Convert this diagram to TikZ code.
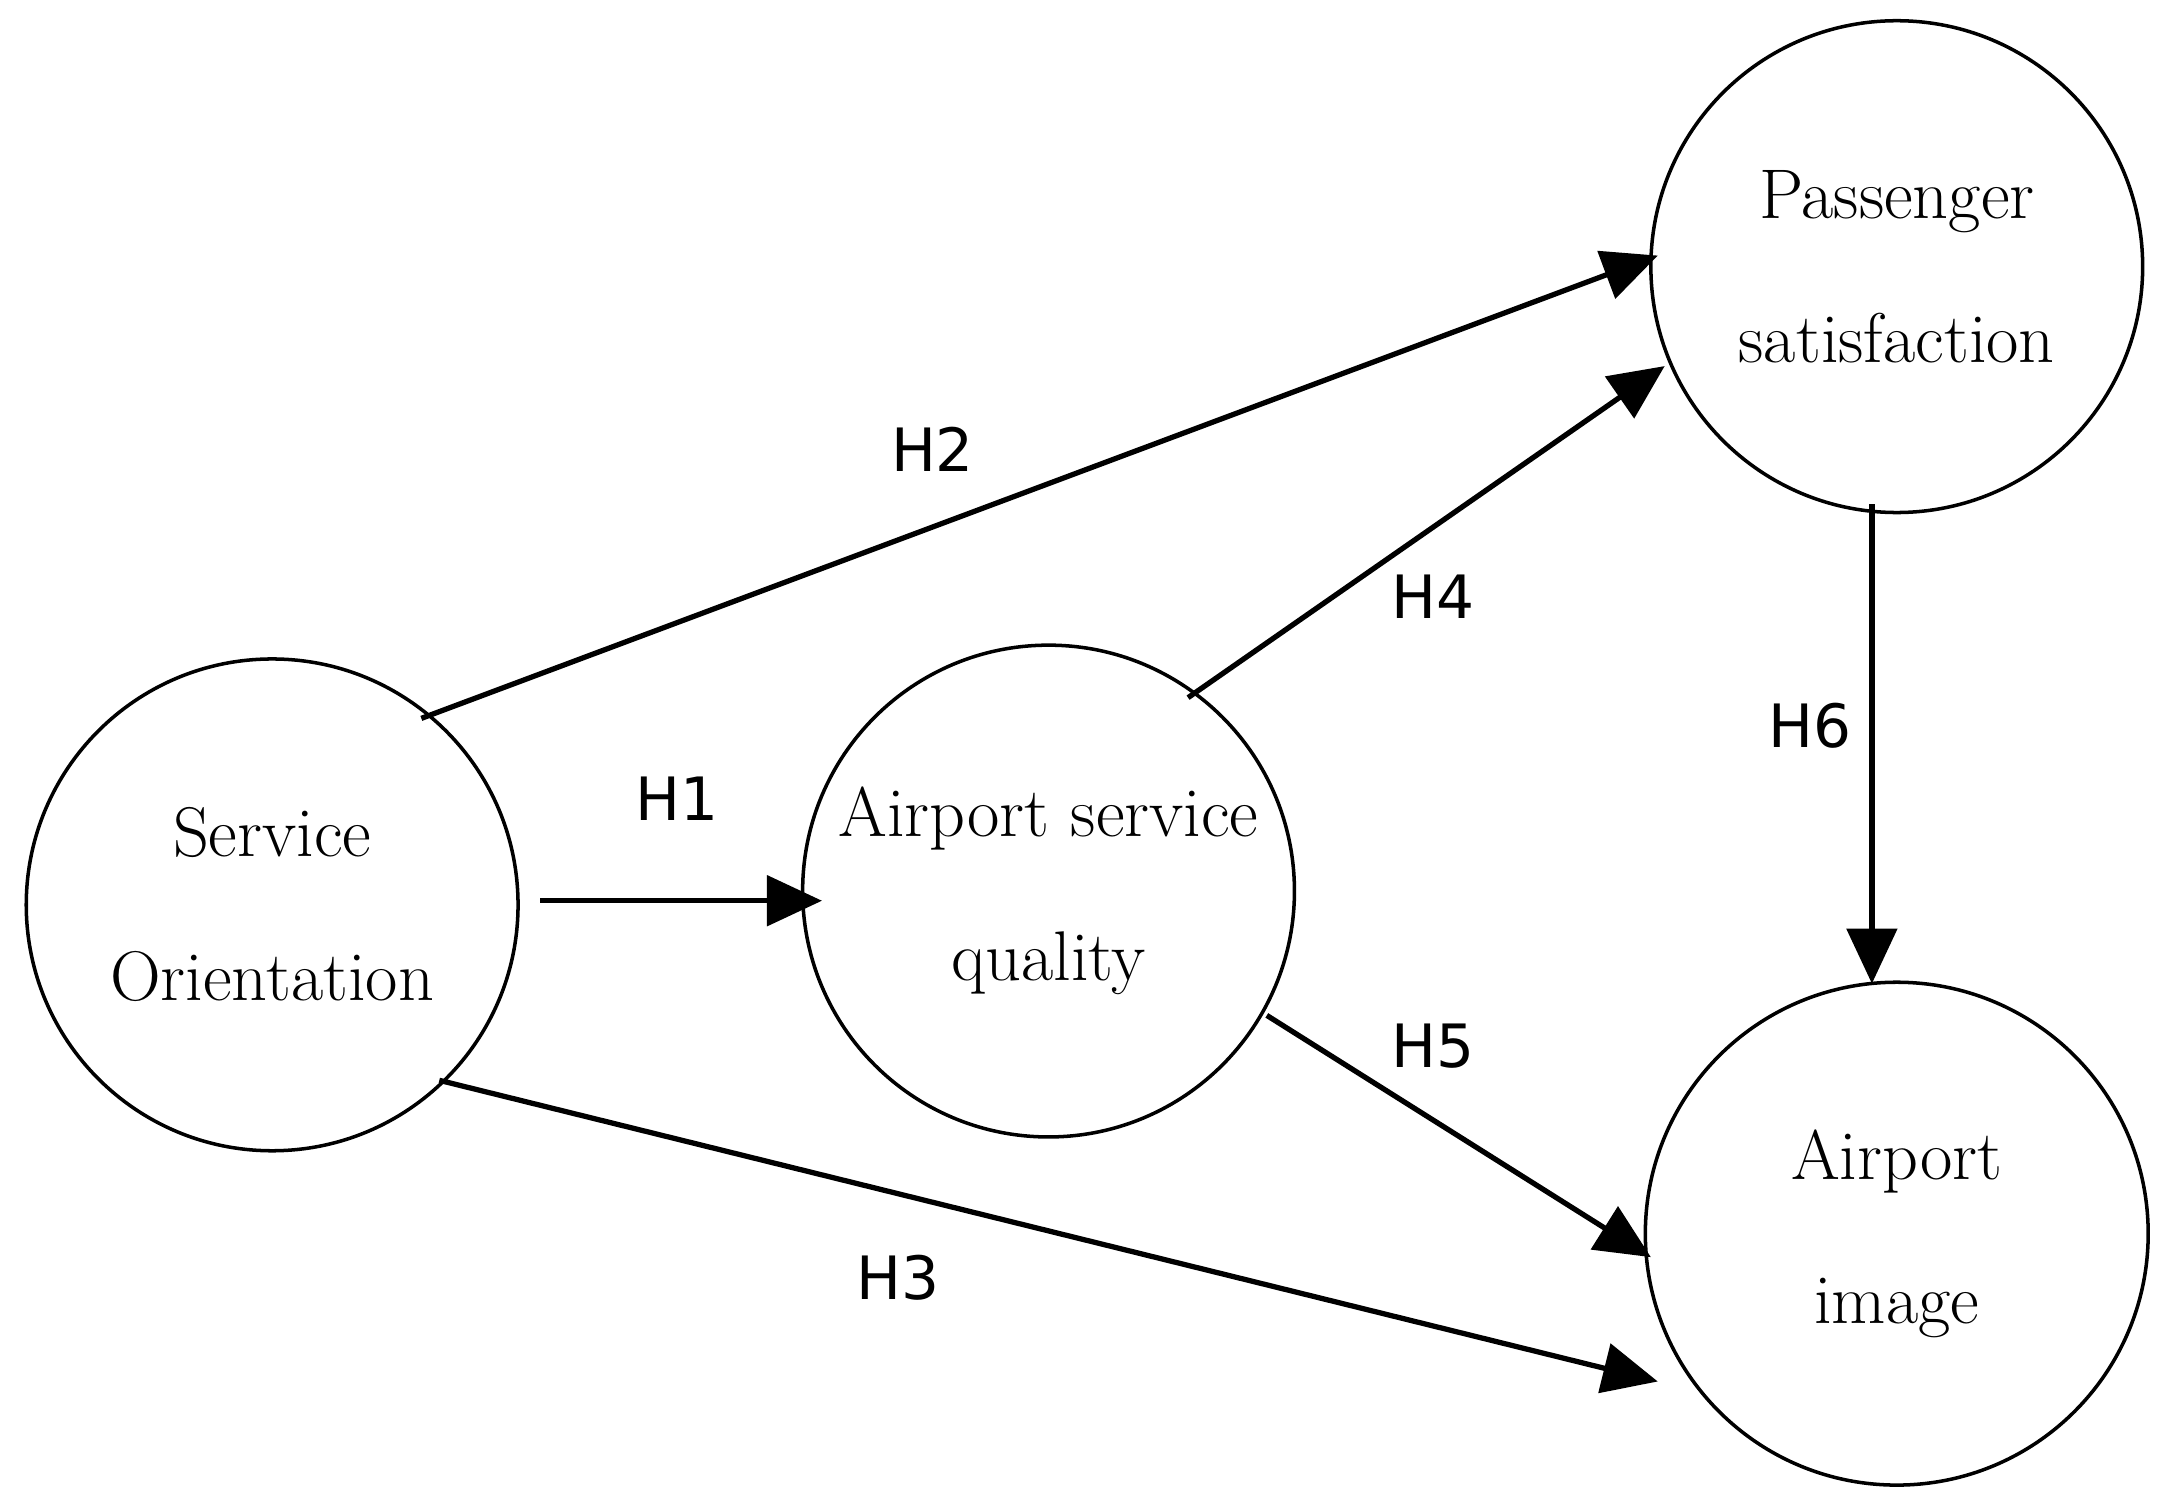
\documentclass[tikz,border=0pt]{standalone}
\usepackage{fontspec}
\newfontfamily\hsans{DejaVu Sans}
\usetikzlibrary{arrows.meta}
\begin{document}
\begin{tikzpicture}[x=0.013815cm,y=-0.013815cm,
  cnode/.style={circle,draw,line width=1pt,minimum size=356*0.013815cm,inner sep=0pt,align=center,font=\fontsize{20}{41}\selectfont},
  arr/.style={line width=1.5pt,-{Triangle[length=0.55cm,width=0.5cm]}},
  hl/.style={font=\hsans\fontsize{17}{20}\selectfont}]
\useasboundingbox (0,0) rectangle (1565,1077);
\node[cnode] (so) at (197,655) {Service\\Orientation};
\node[cnode] (asq) at (759,645) {Airport service\\quality};
\node[cnode] (ps) at (1373,193) {Passenger\\satisfaction};
\node[cnode,minimum size=364*0.013815cm] (ai) at (1373,893) {Airport\\image};
\coordinate (a1) at (391,652); \coordinate (b1) at (595,652);
\coordinate (a2) at (305,520); \coordinate (b2) at (1200,185);
\coordinate (a4) at (860,505); \coordinate (b4) at (1205,265);
\coordinate (a5) at (917,735); \coordinate (b5) at (1195,910);
\coordinate (a3) at (318,782); \coordinate (b3) at (1200,1000);
\coordinate (a6) at (1355,365); \coordinate (b6) at (1355,712);
\draw[arr] (a1) -- (b1);
\draw[arr] (a2) -- (b2);
\draw[arr] (a4) -- (b4);
\draw[arr] (a5) -- (b5);
\draw[arr] (a3) -- (b3);
\draw[arr] (a6) -- (b6);
\node[hl] (h1) at (490,578) {H1};
\node[hl] (h2) at (675,325) {H2};
\node[hl] (h3) at (650,925) {H3};
\node[hl] (h4) at (1037,432) {H4};
\node[hl] (h5) at (1037,757) {H5};
\node[hl] (h6) at (1310,525) {H6};
\end{tikzpicture}
\end{document}
